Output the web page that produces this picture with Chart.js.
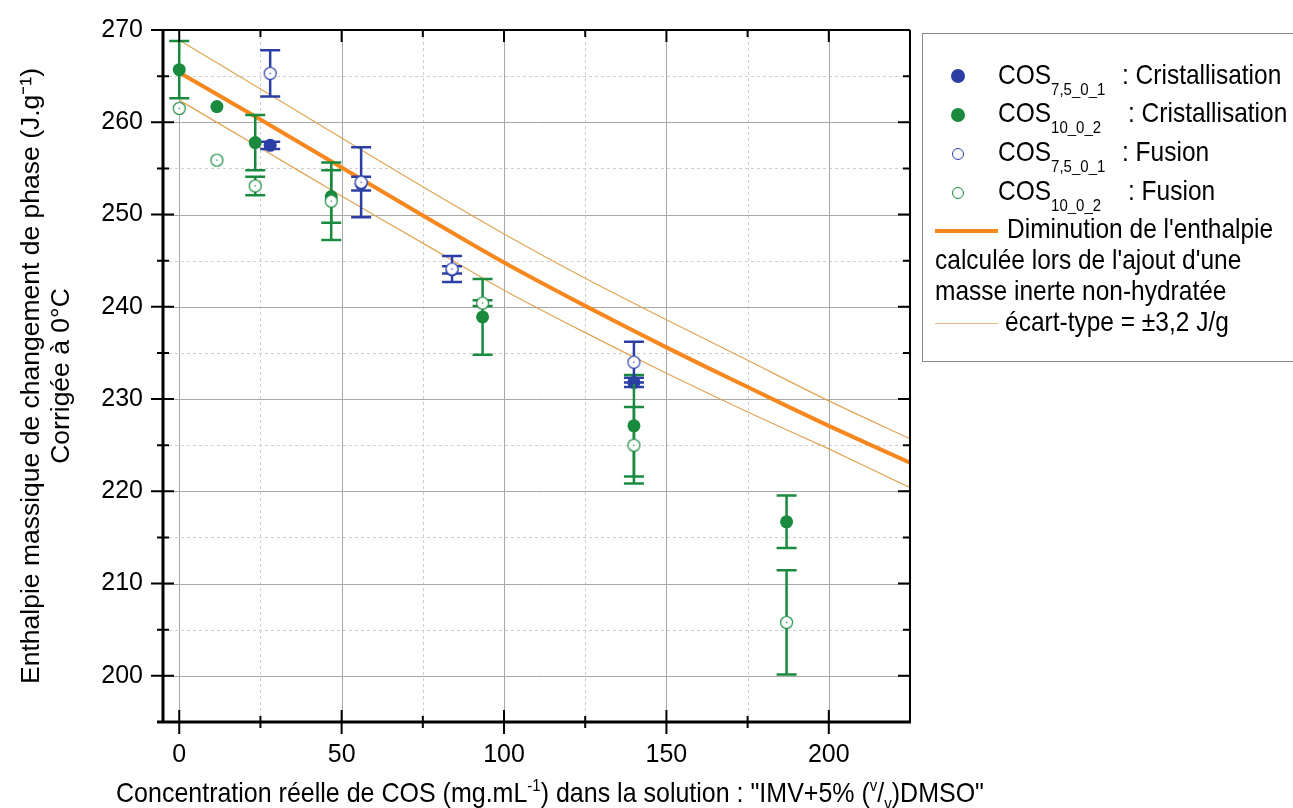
<!DOCTYPE html>
<html>
<head>
<meta charset="utf-8">
<script src="https://cdn.jsdelivr.net/npm/chart.js@4"></script>
<style>
  body { margin: 0; background: #fff; }
  #zone { position: relative; width: 1293px; height: 808px; overflow: hidden; font-family: "Liberation Sans", Arial, sans-serif; }
  #graphe { position: absolute; left: 0; top: 0; }
  #titre_x { position: absolute; left: 0; width: 1100px; top: 778px; text-align: center; font-size: 25px; line-height: 28px; white-space: nowrap; transform: scaleY(1.12); transform-origin: 50% 50%; }
  #titre_x sup { font-size: 15px; vertical-align: 10px; line-height: 0; }
  #titre_x sub { font-size: 15px; vertical-align: -6px; line-height: 0; }
  #legende { position: absolute; left: 922px; top: 33px; width: 420px; height: 327px; border: 1px solid #8a8a8a; font-size: 24.5px; color: #000; }
  #legende .l { position: absolute; white-space: nowrap; line-height: 28px; transform: scaleY(1.15); transform-origin: 0 50%; }
  #legende sub { font-size: 15px; vertical-align: -9px; line-height: 0; }
  .pt { position: absolute; width: 14px; height: 14px; border-radius: 50%; box-sizing: border-box; }
  .trait { position: absolute; left: 12px; width: 63px; }
</style>
</head>
<body>
<div id="zone">
  <canvas id="graphe" width="1293" height="808"></canvas>
  <div id="titre_x">Concentration réelle de COS (mg.mL<sup>-1</sup>) dans la solution : "IMV+5% (<sup>v</sup>/<sub>v</sub>)DMSO"</div>
  <div id="legende">
    <div class="pt" style="left:28px; top:35px; background:#2b3ea6"></div>
    <div class="l" style="left:75px; top:27px">COS<sub>7,5_0_1</sub></div>
    <div class="l" style="left:199px; top:27px">: Cristallisation</div>

    <div class="pt" style="left:28px; top:74px; background:#198a3e"></div>
    <div class="l" style="left:75px; top:65px">COS<sub>10_0_2</sub></div>
    <div class="l" style="left:205px; top:65px">: Cristallisation</div>

    <div class="pt" style="left:29px; top:114px; width:12px; height:12px; border:1.2px solid #2b3ea6"></div>
    <div class="l" style="left:75px; top:104px">COS<sub>7,5_0_1</sub></div>
    <div class="l" style="left:199px; top:104px">: Fusion</div>

    <div class="pt" style="left:29px; top:153px; width:12px; height:12px; border:1.2px solid #198a3e"></div>
    <div class="l" style="left:75px; top:143px">COS<sub>10_0_2</sub></div>
    <div class="l" style="left:205px; top:143px">: Fusion</div>

    <div class="trait" style="top:195px; height:4px; background:#f7881f"></div>
    <div class="l" style="left:84px; top:181px">Diminution de l'enthalpie</div>
    <div class="l" style="left:12px; top:212px">calculée lors de l'ajout d'une</div>
    <div class="l" style="left:12px; top:243px">masse inerte non-hydratée</div>
    <div class="trait" style="top:289px; height:1px; background:#e3b988"></div>
    <div class="l" style="left:82px; top:274px">écart-type = ±3,2 J/g</div>
  </div>
</div>
<script>
// Concentrations (mg/mL) et enthalpies (J/g)
const conc_bleu = [28, 56, 84, 140];
const crist_bleu = [257.5, 253.35, 244.0, 231.8];
const err_crist_bleu = [0.4, 0.75, 0.4, 0.5];
const fusion_bleu = [265.3, 253.5, 244.1, 234.0];
const err_fusion_bleu = [2.5, 3.8, 1.4, 2.2];

const conc_vert = [0, 11.6, 23.4, 46.8, 93.4, 140, 187];
const crist_vert = [265.7, 261.7, 257.8, 251.95, 238.9, 227.1, 216.7];
const err_crist_vert = [3.1, 0, 3.0, 2.85, 4.1, 5.5, 2.85];
const fusion_vert = [261.5, 255.9, 253.1, 251.45, 240.4, 225.0, 205.8];
const err_fusion_vert = [0, 0, 1.0, 4.2, 0.3, 4.15, 5.65];

// courbe calculée et écart-type
const conc_courbe = [0, 25, 50, 75, 100, 125, 150, 175, 200, 225];
const enthalpie_calc = [265.4, 260.3, 255.1, 249.9, 244.8, 240.1, 235.6, 231.3, 227.1, 223.1];
const enthalpie_haut = [268.9, 263.6, 258.3, 253.0, 247.9, 243.1, 238.6, 234.2, 229.8, 225.7];
const enthalpie_bas = [262.4, 257.2, 252.0, 246.9, 241.8, 237.2, 232.8, 228.6, 224.6, 220.4];

const x_ticks = [0, 50, 100, 150, 200];
const x_mineurs = [25, 75, 125, 175];
const y_ticks = [200, 210, 220, 230, 240, 250, 260, 270];
const y_mineurs = [205, 215, 225, 235, 245, 255, 265];

const BLEU = '#2b3ea6';
const VERT = '#198a3e';
const ORANGE = '#f7881f';
const ORANGE_CLAIR = '#e0a455';

function points(xs, ys) {
  return xs.map((x, i) => ({ x: x, y: ys[i] }));
}

// cercle ouvert avec petit point central (style Origin)
function cercleOuvert(couleur) {
  const c = document.createElement('canvas');
  c.width = 15; c.height = 15;
  const g = c.getContext('2d');
  g.beginPath();
  g.arc(7.5, 7.5, 6, 0, 2 * Math.PI);
  g.fillStyle = '#fff';
  g.fill();
  g.lineWidth = 1.2;
  g.strokeStyle = couleur;
  g.stroke();
  g.beginPath();
  g.arc(7.5, 7.5, 0.8, 0, 2 * Math.PI);
  g.fillStyle = couleur;
  g.fill();
  return c;
}

const cadre = {
  id: 'cadre',
  beforeDatasetsDraw(chart) {
    const { ctx, chartArea: a, scales: { x, y } } = chart;
    ctx.save();
    ctx.lineWidth = 1;
    // grille secondaire pointillée
    ctx.strokeStyle = '#cfcfcf';
    ctx.setLineDash([3, 3]);
    x_mineurs.forEach(v => {
      const px = Math.round(x.getPixelForValue(v)) + 0.5;
      ctx.beginPath(); ctx.moveTo(px, a.top); ctx.lineTo(px, a.bottom); ctx.stroke();
    });
    y_mineurs.forEach(v => {
      const py = Math.round(y.getPixelForValue(v)) + 0.5;
      ctx.beginPath(); ctx.moveTo(a.left, py); ctx.lineTo(a.right, py); ctx.stroke();
    });
    // grille principale
    ctx.setLineDash([]);
    ctx.strokeStyle = '#a8a8a8';
    x_ticks.forEach(v => {
      const px = Math.round(x.getPixelForValue(v)) + 0.5;
      ctx.beginPath(); ctx.moveTo(px, a.top); ctx.lineTo(px, a.bottom); ctx.stroke();
    });
    y_ticks.forEach(v => {
      const py = Math.round(y.getPixelForValue(v)) + 0.5;
      ctx.beginPath(); ctx.moveTo(a.left, py); ctx.lineTo(a.right, py); ctx.stroke();
    });
    ctx.restore();
  },
  beforeDatasetDraw(chart, args) {
    const ds = chart.data.datasets[args.index];
    if (!ds.erreurs) return;
    const { ctx, scales: { x, y } } = chart;
    ctx.save();
    ctx.strokeStyle = ds.borderColor;
    ctx.lineWidth = 2.5;
    ds.data.forEach((p, i) => {
      const e = ds.erreurs[i];
      if (!e) return;
      const px = x.getPixelForValue(p.x);
      const y1 = y.getPixelForValue(p.y + e);
      const y2 = y.getPixelForValue(p.y - e);
      ctx.beginPath();
      ctx.moveTo(px, y1); ctx.lineTo(px, y2);
      ctx.moveTo(px - 10, y1); ctx.lineTo(px + 10, y1);
      ctx.moveTo(px - 10, y2); ctx.lineTo(px + 10, y2);
      ctx.stroke();
    });
    ctx.restore();
  },
  afterDatasetsDraw(chart) {
    const { ctx, chartArea: a, scales: { x, y } } = chart;
    ctx.save();
    ctx.strokeStyle = '#000';
    // cadre
    ctx.lineWidth = 2;
    ctx.beginPath();
    ctx.moveTo(a.left, a.top); ctx.lineTo(a.right, a.top);
    ctx.moveTo(a.right, a.top); ctx.lineTo(a.right, a.bottom);
    ctx.stroke();
    ctx.lineWidth = 3;
    ctx.beginPath();
    ctx.moveTo(a.left, a.top - 1); ctx.lineTo(a.left, a.bottom);
    ctx.moveTo(a.left - 6, a.bottom); ctx.lineTo(a.right + 1, a.bottom);
    ctx.stroke();
    // graduations
    ctx.lineWidth = 2;
    ctx.beginPath();
    y_ticks.forEach(v => {
      const py = y.getPixelForValue(v);
      ctx.moveTo(a.left - 12, py); ctx.lineTo(a.left + 11, py);
      ctx.moveTo(a.right - 12, py); ctx.lineTo(a.right, py);
    });
    y_mineurs.forEach(v => {
      const py = y.getPixelForValue(v);
      ctx.moveTo(a.left - 6, py); ctx.lineTo(a.left + 6, py);
      ctx.moveTo(a.right - 7, py); ctx.lineTo(a.right, py);
    });
    x_ticks.forEach(v => {
      const px = x.getPixelForValue(v);
      ctx.moveTo(px, a.bottom - 12); ctx.lineTo(px, a.bottom + 12);
      ctx.moveTo(px, a.top); ctx.lineTo(px, a.top + 12);
    });
    x_mineurs.forEach(v => {
      const px = x.getPixelForValue(v);
      ctx.moveTo(px, a.bottom - 6); ctx.lineTo(px, a.bottom + 6);
      ctx.moveTo(px, a.top); ctx.lineTo(px, a.top + 7);
    });
    ctx.stroke();
    ctx.restore();
  }
};

const police = { family: '"Liberation Sans", Arial, sans-serif', size: 25 };

new Chart(document.getElementById('graphe'), {
  type: 'scatter',
  data: {
    datasets: [
      {
        label: 'COS 7,5_0_1 : Cristallisation',
        data: points(conc_bleu, crist_bleu),
        erreurs: err_crist_bleu,
        borderColor: BLEU, backgroundColor: BLEU,
        pointRadius: 6.5, pointBorderWidth: 0, order: 4
      },
      {
        label: 'COS 10_0_2 : Cristallisation',
        data: points(conc_vert, crist_vert),
        erreurs: err_crist_vert,
        borderColor: VERT, backgroundColor: VERT,
        pointRadius: 6.5, pointBorderWidth: 0, order: 3
      },
      {
        label: 'COS 7,5_0_1 : Fusion',
        data: points(conc_bleu, fusion_bleu),
        erreurs: err_fusion_bleu,
        borderColor: BLEU, backgroundColor: '#fff',
        pointStyle: cercleOuvert(BLEU), order: 2
      },
      {
        label: 'COS 10_0_2 : Fusion',
        data: points(conc_vert, fusion_vert),
        erreurs: err_fusion_vert,
        borderColor: VERT, backgroundColor: '#fff',
        pointStyle: cercleOuvert(VERT), order: 1
      },
      {
        label: "Diminution de l'enthalpie calculée",
        data: points(conc_courbe, enthalpie_calc),
        showLine: true, borderColor: ORANGE, borderWidth: 4,
        pointRadius: 0, tension: 0.3, order: 10
      },
      {
        label: 'écart-type +',
        data: points(conc_courbe, enthalpie_haut),
        showLine: true, borderColor: ORANGE_CLAIR, borderWidth: 1.2,
        pointRadius: 0, tension: 0.3, order: 11
      },
      {
        label: 'écart-type -',
        data: points(conc_courbe, enthalpie_bas),
        showLine: true, borderColor: ORANGE_CLAIR, borderWidth: 1.2,
        pointRadius: 0, tension: 0.3, order: 12
      }
    ]
  },
  options: {
    responsive: false,
    animation: false,
    layout: { padding: { left: 0, top: 30, right: 383, bottom: 0 } },
    plugins: { legend: { display: false }, tooltip: { enabled: false } },
    scales: {
      x: {
        type: 'linear', min: -5, max: 225,
        afterBuildTicks: s => { s.ticks = x_ticks.map(v => ({ value: v })); },
        afterFit: s => { s.height = 86; s.paddingLeft = 0; s.paddingRight = 0; },
        grid: { display: false, drawTicks: false },
        border: { display: false },
        ticks: { color: '#000', font: police, padding: 18, maxRotation: 0 },
        title: { display: false }
      },
      y: {
        type: 'linear', min: 195, max: 270,
        afterBuildTicks: s => { s.ticks = y_ticks.map(v => ({ value: v })); },
        afterFit: s => { s.width = 163; s.paddingTop = 0; s.paddingBottom = 0; },
        grid: { display: false, drawTicks: false },
        border: { display: false },
        ticks: { color: '#000', font: police, padding: 20 },
        title: {
          display: true,
          text: ['Enthalpie massique de changement de phase (J.g⁻¹)', 'Corrigée à 0°C'],
          color: '#000',
          font: { family: '"Liberation Sans", Arial, sans-serif', size: 26.5, lineHeight: 1.15 },
          padding: { top: 16, bottom: 0 }
        }
      }
    }
  },
  plugins: [cadre]
});
</script>
</body>
</html>
